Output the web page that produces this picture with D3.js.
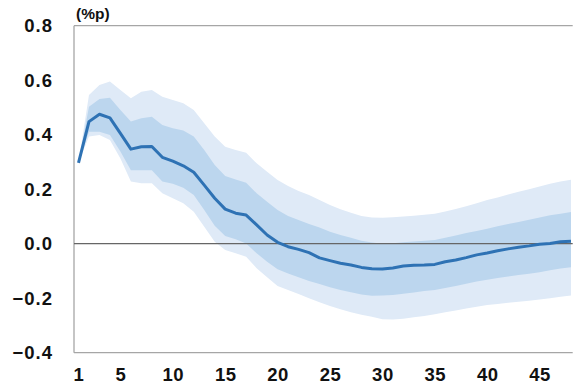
<!DOCTYPE html>
<html>
<head>
<meta charset="utf-8">
<script src="https://cdn.jsdelivr.net/npm/d3@7"></script>
<style>
  html, body { margin: 0; padding: 0; background: #fff; }
  svg { display: block; }
  text { font-family: "Liberation Sans", Arial, sans-serif; font-weight: bold; fill: #111; }
</style>
</head>
<body>
<svg id="chart" width="573" height="385"></svg>
<script>
// Horizon (periods after the shock)
const periods = d3.range(1, 49);

// Point estimate of the response (%p)
const response = [
  0.297, 0.448, 0.475, 0.462, 0.405, 0.347, 0.356, 0.357, 0.317, 0.303,
  0.286, 0.262, 0.215, 0.167, 0.127, 0.112, 0.105, 0.069, 0.032, 0.005,
  -0.011, -0.021, -0.033, -0.052, -0.062, -0.072, -0.078, -0.087, -0.092, -0.093,
  -0.089, -0.082, -0.079, -0.078, -0.076, -0.066, -0.060, -0.051, -0.041, -0.034,
  -0.026, -0.019, -0.013, -0.008, -0.002, 0.001, 0.007, 0.009
];

// Inner confidence band
const innerUpper = [
  0.297, 0.503, 0.531, 0.536, 0.491, 0.448, 0.460, 0.466, 0.436, 0.424,
  0.415, 0.393, 0.344, 0.289, 0.248, 0.236, 0.224, 0.185, 0.154, 0.124,
  0.102, 0.087, 0.072, 0.059, 0.044, 0.032, 0.022, 0.011, 0.004, 0.000,
  0.002, 0.005, 0.008, 0.011, 0.014, 0.022, 0.030, 0.039, 0.047, 0.055,
  0.064, 0.072, 0.080, 0.088, 0.096, 0.104, 0.110, 0.116
];
const innerLower = [
  0.297, 0.411, 0.411, 0.399, 0.338, 0.270, 0.270, 0.270, 0.228, 0.220,
  0.205, 0.179, 0.124, 0.066, 0.028, 0.016, 0.001, -0.035, -0.066, -0.094,
  -0.109, -0.123, -0.137, -0.148, -0.160, -0.170, -0.178, -0.186, -0.191, -0.190,
  -0.188, -0.184, -0.179, -0.174, -0.170, -0.163, -0.155, -0.147, -0.139, -0.132,
  -0.126, -0.120, -0.115, -0.110, -0.105, -0.097, -0.091, -0.086
];

// Outer confidence band
const outerUpper = [
  0.297, 0.546, 0.582, 0.595, 0.564, 0.534, 0.558, 0.564, 0.539, 0.527,
  0.515, 0.491, 0.442, 0.393, 0.356, 0.344, 0.334, 0.295, 0.264, 0.234,
  0.212, 0.193, 0.179, 0.160, 0.142, 0.126, 0.114, 0.102, 0.096, 0.095,
  0.097, 0.100, 0.103, 0.106, 0.110, 0.118, 0.127, 0.137, 0.148, 0.160,
  0.170, 0.181, 0.191, 0.200, 0.210, 0.220, 0.228, 0.235
];
const outerLower = [
  0.297, 0.393, 0.399, 0.381, 0.313, 0.228, 0.222, 0.222, 0.185, 0.167,
  0.148, 0.117, 0.062, 0.007, -0.023, -0.035, -0.048, -0.090, -0.123, -0.155,
  -0.170, -0.185, -0.200, -0.215, -0.229, -0.241, -0.252, -0.261, -0.268, -0.277,
  -0.278, -0.275, -0.270, -0.265, -0.259, -0.252, -0.245, -0.238, -0.231, -0.225,
  -0.221, -0.217, -0.213, -0.209, -0.205, -0.200, -0.195, -0.190
];

// Axis tick labels
const xTicks = [1, 5, 10, 15, 20, 25, 30, 35, 40, 45];
const yTicks = [-0.4, -0.2, 0.0, 0.2, 0.4, 0.6, 0.8];
const unitLabel = "(%p)";

const svg = d3.select("#chart");
const plot = { left: 74, right: 572.7, top: 25.7, bottom: 352.7 };

const x = d3.scaleLinear().domain([1, 48]).range([78.5, 571]);
const y = d3.scaleLinear().domain([-0.4, 0.8]).range([plot.bottom, plot.top]);

// Bands
const band = (lo, hi) => d3.area()
  .x((d, i) => x(periods[i]))
  .y0((d, i) => y(lo[i]))
  .y1((d, i) => y(hi[i]));

svg.append("path").datum(periods)
  .attr("d", band(outerLower, outerUpper))
  .attr("fill", "#dfeaf7");
svg.append("path").datum(periods)
  .attr("d", band(innerLower, innerUpper))
  .attr("fill", "#bcd6ee");

// Frame: left axis, bottom axis, top border
const frame = svg.append("g").attr("stroke", "#a6a6a6").attr("stroke-width", 1.3);
frame.append("line").attr("x1", plot.left).attr("x2", plot.left).attr("y1", plot.top).attr("y2", plot.bottom);
frame.append("line").attr("x1", plot.left).attr("x2", plot.right).attr("y1", plot.bottom).attr("y2", plot.bottom);
frame.append("line").attr("x1", plot.left).attr("x2", plot.right).attr("y1", plot.top).attr("y2", plot.top);

// Zero reference line
svg.append("line")
  .attr("x1", plot.left).attr("x2", plot.right)
  .attr("y1", y(0)).attr("y2", y(0))
  .attr("stroke", "#666").attr("stroke-width", 1.2);

// Point estimate
svg.append("path").datum(response)
  .attr("d", d3.line().x((d, i) => x(periods[i])).y(d => y(d)))
  .attr("fill", "none")
  .attr("stroke", "#2e72b4")
  .attr("stroke-width", 3)
  .attr("stroke-linejoin", "round");

// Y axis labels
const yAxis = svg.append("g")
  .attr("transform", `translate(${plot.left},0)`)
  .call(d3.axisLeft(y).tickValues(yTicks).tickSize(0).tickPadding(21)
    .tickFormat(d => (d < 0 ? "\u2212" : "") + Math.abs(d).toFixed(1)));
yAxis.select(".domain").remove();
yAxis.selectAll("text")
  .attr("font-size", 18.5).attr("letter-spacing", 1).attr("fill", "#111")
  .attr("font-family", "Liberation Sans, Arial, sans-serif").attr("font-weight", "bold");

// X axis labels
const xAxis = svg.append("g")
  .attr("transform", `translate(0,${plot.bottom})`)
  .call(d3.axisBottom(x).tickValues(xTicks).tickSize(0).tickPadding(15)
    .tickFormat(d3.format("d")));
xAxis.select(".domain").remove();
xAxis.selectAll("text")
  .attr("font-size", 18.5).attr("letter-spacing", 0.5).attr("fill", "#111")
  .attr("font-family", "Liberation Sans, Arial, sans-serif").attr("font-weight", "bold");

// Unit label
svg.append("text")
  .attr("x", 76).attr("y", 19)
  .attr("font-size", 15.5)
  .text(unitLabel);
</script>
</body>
</html>
